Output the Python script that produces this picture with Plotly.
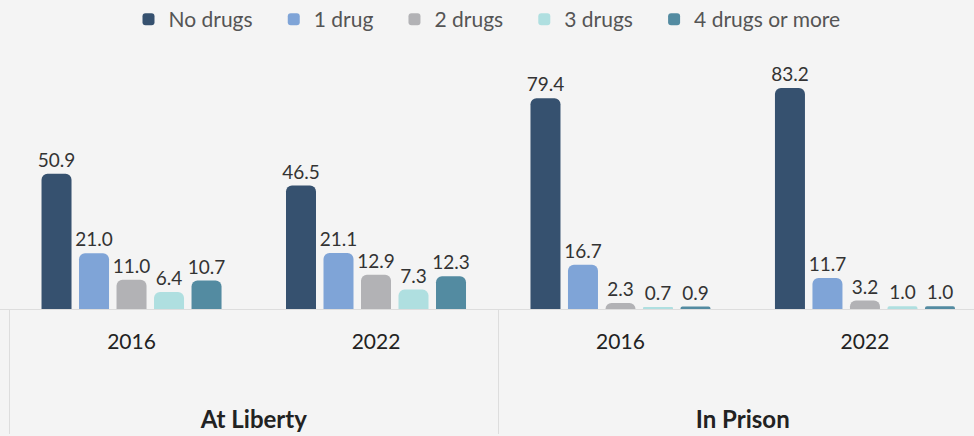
import plotly.graph_objects as go

groups = ["At Liberty", "At Liberty", "In Prison", "In Prison"]
years = ["2016", "2022", "2016", "2022"]

series_names = ["No drugs", "1 drug", "2 drugs", "3 drugs", "4 drugs or more"]
no_drugs = [50.9, 46.5, 79.4, 83.2]
one_drug = [21.0, 21.1, 16.7, 11.7]
two_drugs = [11.0, 12.9, 2.3, 3.2]
three_drugs = [6.4, 7.3, 0.7, 1.0]
four_plus = [10.7, 12.3, 0.9, 1.0]

colors = ["#36516f", "#7fa4d7", "#b2b2b5", "#afdfe0", "#538ba1"]

# group labels sit lower and bigger than the year labels
group_labels = ["<br><br><span style='font-size:24px'><b>%s</b></span>" % g for g in groups]
year_labels = ["<span style='font-size:21px'>%s</span>" % y for y in years]

fig = go.Figure()
for i, (name, vals, col) in enumerate(zip(series_names,
                                          [no_drugs, one_drug, two_drugs, three_drugs, four_plus],
                                          colors)):
    # a little extra room after each legend entry, except the last one
    pad = "\u00a0\u00a0\u00a0" if i < len(series_names) - 1 else ""
    fig.add_trace(go.Bar(
        x=[group_labels, year_labels],
        y=vals,
        name=name + pad,
        marker=dict(color=col, cornerradius=6, line=dict(width=0)),
        texttemplate="%{y:.1f}",
        textposition="outside",
        constraintext="none",
        textfont=dict(size=19, color="#333333", family="Lato"),
        cliponaxis=False,
    ))

fig.update_layout(
    width=974, height=436,
    paper_bgcolor="#f4f4f4",
    plot_bgcolor="#f4f4f4",
    font=dict(family="Lato", color="#222222"),
    barmode="group",
    bargap=0.233,
    bargroupgap=0.2,
    margin=dict(l=0, r=0, t=40, b=127, autoexpand=False),
    legend=dict(
        orientation="h", x=0.5, xanchor="center",
        yref="container", y=0.955, yanchor="middle",
        font=dict(size=21, color="#555555"), itemwidth=30,
        bgcolor="rgba(0,0,0,0)",
    ),
    xaxis=dict(
        type="multicategory",
        range=[-0.538, 3.446],
        showline=True, linecolor="#dddddd", linewidth=1,
        showdividers=True, dividercolor="#dddddd", dividerwidth=1,
        tickfont=dict(size=24, color="#222222"),
        ticklabelstandoff=10,
        ticks="",
        showgrid=False,
    ),
    yaxis=dict(
        range=[0, 101.3], visible=False, showgrid=False, zeroline=False,
    ),
)

# page body has an 8px default margin; drop it so the chart fills the window
fig.write_html("out.html", config={"displayModeBar": False},
               post_script="document.body.style.margin='0';")
